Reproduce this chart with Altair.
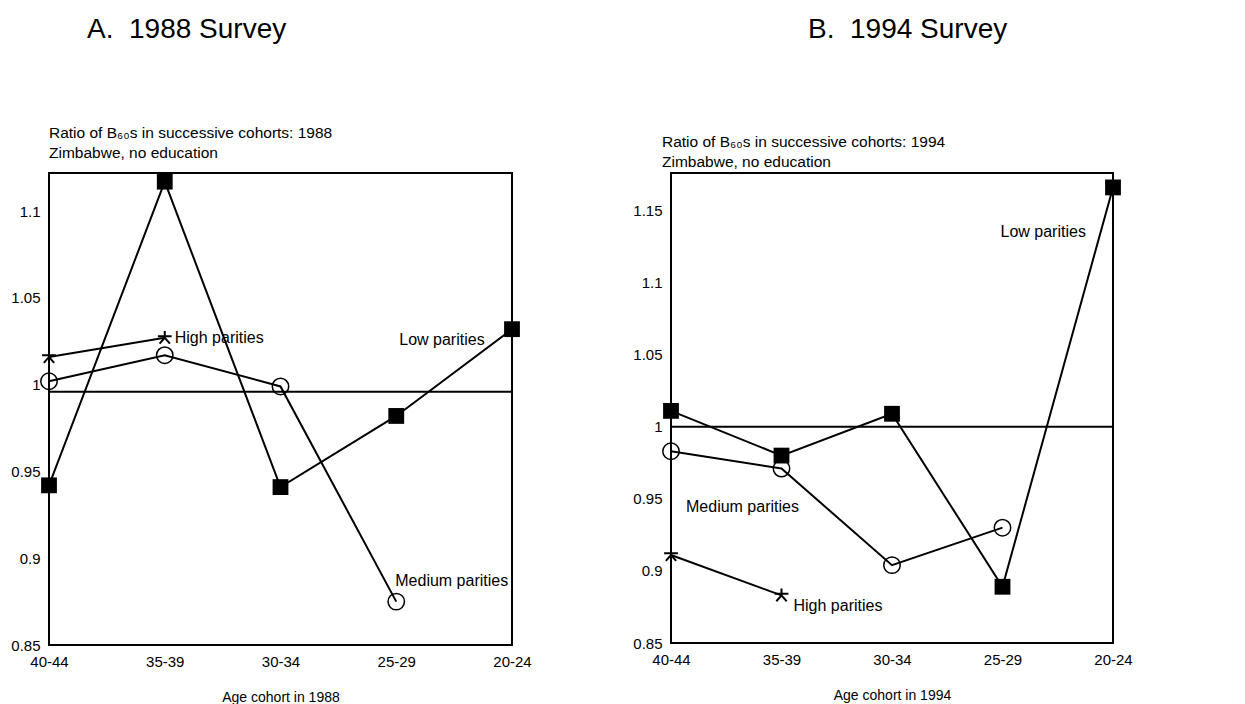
import altair as alt
import pandas as pd

cohorts = ["40-44", "35-39", "30-34", "25-29", "20-24"]

low_1988 = [0.942, 1.117, 0.941, 0.982, 1.032]
med_1988 = [1.002, 1.017, 0.999, 0.875, None]
high_1988 = [1.016, 1.027, None, None, None]

low_1994 = [1.011, 0.980, 1.009, 0.889, 1.166]
med_1994 = [0.983, 0.971, 0.904, 0.930, None]
high_1994 = [0.911, 0.883, None, None, None]

ref_1988 = 0.996
ref_1994 = 1.0

FONT = "Liberation Sans, Arial"
STAR = "M0,-1L0,0M-1,-0.25L1,-0.25M-0.75,0.85L0,0L0.75,0.85"


def long_df(low, med, high):
    rows = []
    for name, vals in (("Low", low), ("Medium", med), ("High", high)):
        for c, v in zip(cohorts, vals):
            if v is not None:
                rows.append({"cohort": c, "ratio": v, "series": name})
    return pd.DataFrame(rows)


def panel(df, ref, ydom, ticks, width, height, xtitle, title, title_dx,
          sub1, sub2, sub_dx, sub_y, labels):
    xenc = alt.X("cohort:N", sort=cohorts,
                 scale=alt.Scale(domain=cohorts, padding=0),
                 axis=alt.Axis(title=xtitle, labelAngle=0, ticks=False, domain=False,
                               labelFont=FONT, labelFontSize=15, labelColor="black",
                               labelPadding=9, titleFont=FONT, titleFontSize=14,
                               titleFontWeight="normal", titleColor="black",
                               titlePadding=21, labelFlush=False))
    yenc = alt.Y("ratio:Q", scale=alt.Scale(domain=ydom, nice=False, zero=False),
                 axis=alt.Axis(title=None, values=ticks, ticks=False, domain=False,
                               grid=False, labelFont=FONT, labelFontSize=15,
                               labelColor="black", labelPadding=9,
                               labelExpr="datum.value == 1 ? '1' : format(datum.value, '')"))
    base = alt.Chart(df).encode(x=xenc, y=yenc)

    rule = alt.Chart(pd.DataFrame({"ref": [ref]})).mark_rule(
        color="black", strokeWidth=2).encode(
        y=alt.Y("ref:Q", scale=alt.Scale(domain=ydom, nice=False, zero=False)))

    lines = base.mark_line(color="black", strokeWidth=2).encode(detail="series:N")

    sq = base.transform_filter(alt.datum.series == "Low").mark_point(
        shape="square", filled=True, color="black", size=250, opacity=1)
    ci = base.transform_filter(alt.datum.series == "Medium").mark_point(
        shape="circle", filled=False, color="black", size=270, strokeWidth=1.5, opacity=1)
    st = base.transform_filter(alt.datum.series == "High").mark_point(
        shape=STAR, filled=False, color="black", size=190, strokeWidth=2, opacity=1)

    ann_df = pd.DataFrame(labels, columns=["text", "cohort", "ratio", "dx"])
    anns = []
    for _, r in ann_df.iterrows():
        anns.append(alt.Chart(pd.DataFrame([r])).mark_text(
            align="left", baseline="middle", font=FONT, fontSize=16,
            dx=float(r["dx"]), color="black").encode(
            x=alt.X("cohort:N", sort=cohorts, scale=alt.Scale(domain=cohorts, padding=0)),
            y=alt.Y("ratio:Q", scale=alt.Scale(domain=ydom, nice=False, zero=False)),
            text="text:N"))

    t = alt.Chart(pd.DataFrame({"t": [title]})).mark_text(
        align="left", baseline="alphabetic", font=FONT, fontSize=28, color="black").encode(
        x=alt.value(title_dx), y=alt.value(-135), text="t:N")
    s1 = alt.Chart(pd.DataFrame({"t": [sub1]})).mark_text(
        align="left", baseline="alphabetic", font=FONT, fontSize=15.5, color="black").encode(
        x=alt.value(sub_dx), y=alt.value(sub_y), text="t:N")
    s2 = alt.Chart(pd.DataFrame({"t": [sub2]})).mark_text(
        align="left", baseline="alphabetic", font=FONT, fontSize=15.5, color="black").encode(
        x=alt.value(sub_dx), y=alt.value(sub_y + 20), text="t:N")

    return alt.layer(rule, lines, sq, ci, st, *anns, t, s1, s2).properties(
        width=width, height=height)


left = panel(long_df(low_1988, med_1988, high_1988), ref_1988, [0.85, 1.122],
             [0.85, 0.9, 0.95, 1.0, 1.05, 1.1], 463, 472, "Age cohort in 1988",
             "A.\u00a0 1988 Survey", 38,
             "Ratio of B\u2086\u2080s in successive cohorts: 1988",
             "Zimbabwe, no education", 0, -35,
             [["High parities", "35-39", 1.027, 10],
              ["Low parities", "25-29", 1.026, 3],
              ["Medium parities", "25-29", 0.887, -1]])

right = panel(long_df(low_1994, med_1994, high_1994), ref_1994, [0.85, 1.176],
              [0.85, 0.9, 0.95, 1.0, 1.05, 1.1, 1.15], 442, 470, "Age cohort in 1994",
              "B.\u00a0 1994 Survey", 137,
              "Ratio of B\u2086\u2080s in successive cohorts: 1994",
              "Zimbabwe, no education", -9, -26,
              [["Low parities", "25-29", 1.135, -2],
               ["Medium parities", "40-44", 0.944, 15],
               ["High parities", "35-39", 0.876, 12]])

chart = alt.hconcat(left, right, spacing=98).configure_view(
    stroke="black", strokeWidth=2).properties(
    background="white",
    padding={"left": 9, "top": 15, "right": 5, "bottom": 0})

chart.save("out.html", embed_options={"renderer": "svg", "actions": False})
